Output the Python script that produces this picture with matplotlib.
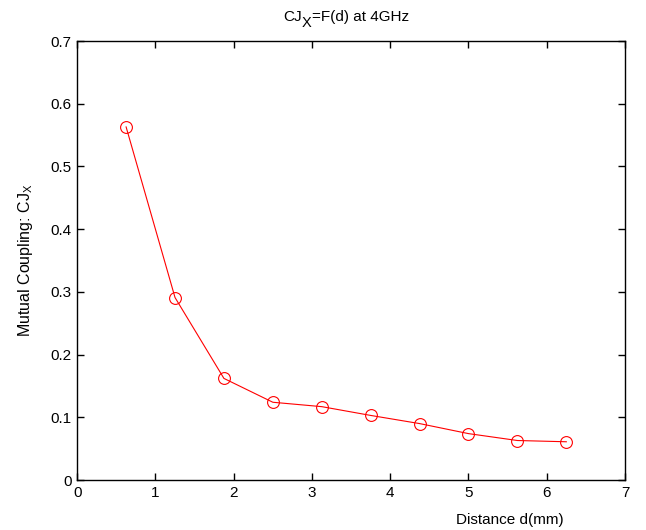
import numpy as np
import matplotlib
matplotlib.use("Agg")
import matplotlib.pyplot as plt

plt.rcParams['font.family'] = ['Liberation Sans', 'DejaVu Sans']
plt.rcParams['mathtext.fontset'] = 'custom'
plt.rcParams['mathtext.rm'] = 'Liberation Sans'
plt.rcParams['mathtext.it'] = 'Liberation Sans'

# data
distance = [0.625, 1.25, 1.875, 2.5, 3.125, 3.75, 4.375, 5.0, 5.625, 6.25]
coupling = [0.563, 0.291, 0.162, 0.124, 0.117, 0.103, 0.090, 0.074, 0.063, 0.061]
xticks = [0, 1, 2, 3, 4, 5, 6, 7]
yticks = [0, 0.1, 0.2, 0.3, 0.4, 0.5, 0.6, 0.7]

fig = plt.figure(figsize=(6.46, 5.30), dpi=100)
ax = fig.add_axes([0.1195, 0.0943, 0.848, 0.8283])

ax.plot(distance, coupling, color='red', lw=0.8, marker='o', ms=8.5,
        mfc='none', mec='red', mew=0.8)

ax.set_xlim(0, 7)
ax.set_ylim(0, 0.7)
ax.set_xticks(xticks)
ax.set_yticks(yticks)
ax.set_xticklabels([str(t) for t in xticks])
ax.set_yticklabels(['0' if t == 0 else '%.1f' % t for t in yticks])
ax.tick_params(direction='in', top=True, right=True, length=5, width=1,
               labelsize=11, pad=4)
for s in ax.spines.values():
    s.set_linewidth(1)

# title built in pieces so the subscript is big and low like the original
t1 = fig.text(0.438, 0.955, 'CJ', ha='left', va='bottom', fontsize=11)
ax.annotate('X', xy=(1, 0), xycoords=t1, xytext=(0, -4.5),
            textcoords='offset points', ha='left', va='bottom', fontsize=10.5)
ax.annotate('=F(d) at 4GHz', xy=(1, 0), xycoords=t1, xytext=(7.5, 0),
            textcoords='offset points', ha='left', va='bottom', fontsize=11)

ax.set_ylabel('Mutual Coupling: CJ$_{\\mathrm{X}}$', fontsize=11.5, labelpad=11)
ax.text(0.79, -0.075, 'Distance d(mm)', transform=ax.transAxes,
        ha='center', va='top', fontsize=11)

fig.savefig('out.png', dpi=100)
